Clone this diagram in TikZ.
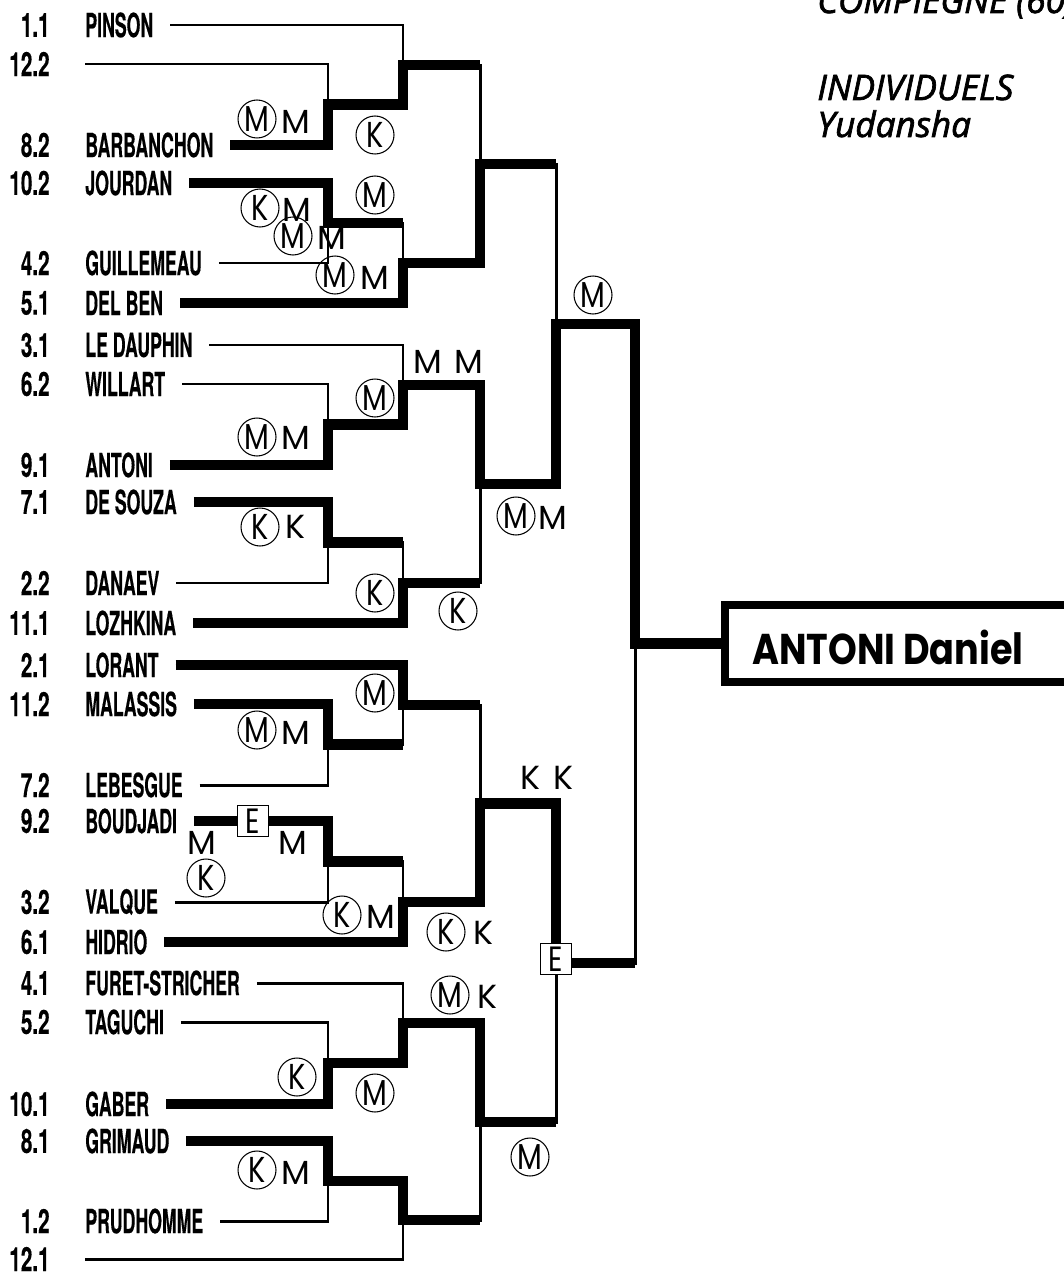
\documentclass[tikz,border=0pt]{standalone}
\usepackage{fontspec}
\newfontfamily\namefont{TeX Gyre Heros}[FakeStretch=0.53,FakeBold=0.3]
\newfontfamily\seedfont{TeX Gyre Heros}[FakeStretch=0.62,FakeBold=0.3]
\newfontfamily\markfont{Poppins}
\newfontfamily\ringfont{Poppins}[FakeStretch=0.8]
\newfontfamily\winfont{Poppins}[FakeStretch=0.85]
\newfontfamily\titlefont{Open Sans}[FakeBold=2]

\tikzset{
  lose/.style={line width=1.7pt},
  win/.style={line width=6.2pt},
  seed/.style={anchor=east, inner sep=0pt, font=\seedfont\bfseries\fontsize{19}{21}\selectfont},
  judoka/.style={anchor=west, inner sep=0pt, font=\namefont\bfseries\fontsize{19}{21}\selectfont},
  ring/.style={circle, draw, line width=0.6pt, minimum size=0.76cm, inner sep=0pt, font=\ringfont\fontsize{20.5}{22}\selectfont},
  score/.style={inner sep=0pt, font=\markfont\fontsize{19}{21}\selectfont},
  ebox/.style={draw, fill=white, line width=0.7pt, minimum size=0.63cm, inner sep=0pt, font=\ringfont\fontsize{20}{22}\selectfont},
  heading/.style={anchor=base west, inner sep=0pt, font=\titlefont\itshape\fontsize{20}{24}\selectfont}
}

\begin{document}
\begin{tikzpicture}[x=0.02cm,y=-0.02cm]
    \useasboundingbox (0,0) rectangle (1064,1277);
    % title
    \node[heading] (venue) at (817,13) {COMPIEGNE (60)};
    \node[heading] (event) at (817,100) {INDIVIDUELS};
    \node[heading] (grade) at (817,137) {Yudansha};
    % competitors
    \node[seed] (s1) at (50,25) {1.1};     \node[judoka] (pinson) at (85,25) {PINSON};
    \node[seed] (s2) at (50,64) {12.2};    \coordinate (bye1) at (85,64);
    \node[seed] (s3) at (50,145) {8.2};    \node[judoka] (barbanchon) at (85,145) {BARBANCHON};
    \node[seed] (s4) at (50,183) {10.2};   \node[judoka] (jourdan) at (85,183) {JOURDAN};
    \node[seed] (s5) at (50,263) {4.2};    \node[judoka] (guillemeau) at (85,263) {GUILLEMEAU};
    \node[seed] (s6) at (50,303) {5.1};    \node[judoka] (delben) at (85,303) {DEL BEN};
    \node[seed] (s7) at (50,345) {3.1};    \node[judoka] (ledauphin) at (85,345) {LE DAUPHIN};
    \node[seed] (s8) at (50,384) {6.2};    \node[judoka] (willart) at (85,384) {WILLART};
    \node[seed] (s9) at (50,465) {9.1};    \node[judoka] (antoni) at (85,465) {ANTONI};
    \node[seed] (s10) at (50,502) {7.1};   \node[judoka] (desouza) at (85,502) {DE SOUZA};
    \node[seed] (s11) at (50,583) {2.2};   \node[judoka] (danaev) at (85,583) {DANAEV};
    \node[seed] (s12) at (50,623) {11.1};  \node[judoka] (lozhkina) at (85,623) {LOZHKINA};
    \node[seed] (s13) at (50,665) {2.1};   \node[judoka] (lorant) at (85,665) {LORANT};
    \node[seed] (s14) at (50,704) {11.2};  \node[judoka] (malassis) at (85,704) {MALASSIS};
    \node[seed] (s15) at (50,785) {7.2};   \node[judoka] (lebesgue) at (85,785) {LEBESGUE};
    \node[seed] (s16) at (50,821) {9.2};   \node[judoka] (boudjadi) at (85,821) {BOUDJADI};
    \node[seed] (s17) at (50,902) {3.2};   \node[judoka] (valque) at (85,902) {VALQUE};
    \node[seed] (s18) at (50,942) {6.1};   \node[judoka] (hidrio) at (85,942) {HIDRIO};
    \node[seed] (s19) at (50,983) {4.1};   \node[judoka] (furet) at (85,983) {FURET-STRICHER};
    \node[seed] (s20) at (50,1022) {5.2};  \node[judoka] (taguchi) at (85,1022) {TAGUCHI};
    \node[seed] (s21) at (50,1104) {10.1}; \node[judoka] (gaber) at (85,1104) {GABER};
    \node[seed] (s22) at (50,1141) {8.1};  \node[judoka] (grimaud) at (85,1141) {GRIMAUD};
    \node[seed] (s23) at (50,1221) {1.2};  \node[judoka] (prudhomme) at (85,1221) {PRUDHOMME};
    \node[seed] (s24) at (50,1259) {12.1}; \coordinate (bye2) at (85,1259);
    % bracket junctions
    \coordinate (j11) at (328,104.5);  \coordinate (j12) at (328,223);
    \coordinate (j13) at (328,424.5);  \coordinate (j14) at (328,542.5);
    \coordinate (j15) at (328,744.5);  \coordinate (j16) at (328,861.5);
    \coordinate (j17) at (328,1063);   \coordinate (j18) at (328,1181);
    \coordinate (j21) at (403,65);     \coordinate (j22) at (403,263);
    \coordinate (j23) at (403,385);    \coordinate (j24) at (403,583);
    \coordinate (j25) at (403,705);    \coordinate (j26) at (403,902);
    \coordinate (j27) at (403,1023);   \coordinate (j28) at (403,1220);
    \coordinate (j31) at (480,164);    \coordinate (j32) at (480,484);
    \coordinate (j33) at (480,803.5);  \coordinate (j34) at (480,1122);
    \coordinate (j41) at (556,324);    \coordinate (j42) at (556,963);
    \coordinate (j5) at (635,643.5);
    % winner
    \node[draw, line width=4.6pt, anchor=west, minimum width=8cm, minimum height=1.54cm] (winbox) at (721,643.5) {};
    \node[anchor=west, inner sep=0pt, font=\winfont\bfseries\fontsize{24.5}{27}\selectfont] (champion) at (752,647) {ANTONI Daniel};
    % thin lines
    \draw[lose] ([xshift=9.5pt]pinson.east) -| (j21);
    \draw[lose] (bye1) -| (j11);
    \draw[lose] ([xshift=9.5pt]barbanchon.east) -| (j11);
    \draw[lose] ([xshift=9.5pt]jourdan.east) -| (j12);
    \draw[lose] ([xshift=9.5pt]guillemeau.east) -| (j12);
    \draw[lose] ([xshift=9.5pt]delben.east) -| (j22);
    \draw[lose] ([xshift=9.5pt]ledauphin.east) -| (j23);
    \draw[lose] ([xshift=9.5pt]willart.east) -| (j13);
    \draw[lose] ([xshift=9.5pt]antoni.east) -| (j13);
    \draw[lose] ([xshift=9.5pt]desouza.east) -| (j14);
    \draw[lose] ([xshift=9.5pt]danaev.east) -| (j14);
    \draw[lose] ([xshift=9.5pt]lozhkina.east) -| (j24);
    \draw[lose] ([xshift=9.5pt]lorant.east) -| (j25);
    \draw[lose] ([xshift=9.5pt]malassis.east) -| (j15);
    \draw[lose] ([xshift=9.5pt]lebesgue.east) -| (j15);
    \draw[lose] ([xshift=9.5pt]boudjadi.east) -| (j16);
    \draw[lose] ([xshift=9.5pt]valque.east) -| (j16);
    \draw[lose] ([xshift=9.5pt]hidrio.east) -| (j26);
    \draw[lose] ([xshift=9.5pt]furet.east) -| (j27);
    \draw[lose] ([xshift=9.5pt]taguchi.east) -| (j17);
    \draw[lose] ([xshift=9.5pt]gaber.east) -| (j17);
    \draw[lose] ([xshift=9.5pt]grimaud.east) -| (j18);
    \draw[lose] ([xshift=9.5pt]prudhomme.east) -| (j18);
    \draw[lose] (bye2) -| (j28);
    \draw[lose] (j11) -| (j21) -| (j31) -| (j41) -| (j5);
    \draw[lose] (j12) -| (j22) -| (j31);
    \draw[lose] (j13) -| (j23) -| (j32) -| (j41);
    \draw[lose] (j14) -| (j24) -| (j32);
    \draw[lose] (j15) -| (j25) -| (j33) -| (j42) -| (j5);
    \draw[lose] (j16) -| (j26) -| (j33);
    \draw[lose] (j17) -| (j27) -| (j34) -| (j42);
    \draw[lose] (j18) -| (j28) -| (j34);
    % winners
    \draw[win] ([xshift=9.5pt]barbanchon.east) -| (j11) -| (j21) -- (j21 -| j31);
    \draw[win] ([xshift=9.5pt]jourdan.east) -| (j12) -- (j12 -| j22);
    \draw[win] ([xshift=9.5pt]delben.east) -| (j22) -| (j31) -- (j31 -| j41);
    \draw[win] ([xshift=9.5pt]antoni.east) -| (j13) -| (j23) -| (j32) -| (j41) -| (j5) -- (winbox.west);
    \draw[win] ([xshift=9.5pt]desouza.east) -| (j14) -- (j14 -| j24);
    \draw[win] ([xshift=9.5pt]lozhkina.east) -| (j24) -- (j24 -| j32);
    \draw[win] ([xshift=9.5pt]lorant.east) -| (j25) -- (j25 -| j33);
    \draw[win] ([xshift=9.5pt]malassis.east) -| (j15) -- (j15 -| j25);
    \draw[win] ([xshift=9.5pt]boudjadi.east) -| (j16) -- (j16 -| j26);
    \draw[win] ([xshift=9.5pt]hidrio.east) -| (j26) -| (j33) -| (j42) -- (j42 -| j5);
    \draw[win] ([xshift=9.5pt]gaber.east) -| (j17) -| (j27) -| (j34) -- (j34 -| j42);
    \draw[win] ([xshift=9.5pt]grimaud.east) -| (j18) -| (j28) -- (j28 -| j34);
    % E marks
    \node[ebox] (e1) at (253,821) {E};
    \node[ebox] (e2) at (556,959) {E};
    % scores
    \node[ring] (c1) at (257,119) {M};   \node[score] (l1) at (296,122) {M};
    \node[ring] (c2) at (375,135) {K};
    \node[ring] (c3) at (375,195) {M};
    \node[ring] (c4) at (260,208) {K};   \node[score] (l2) at (297,210) {M};
    \node[ring] (c5) at (293,236) {M};   \node[score] (l3) at (332,238) {M};
    \node[ring] (c6) at (335,275) {M};   \node[score] (l4) at (375,278) {M};
    \node[ring] (c7) at (593,295) {M};
    \node[score] (l5) at (428,362) {M};  \node[score] (l6) at (469,362) {M};
    \node[ring] (c8) at (375,398) {M};
    \node[ring] (c9) at (257,437) {M};   \node[score] (l7) at (296,438) {M};
    \node[ring] (c10) at (260,527) {K};  \node[score] (l8) at (295,527) {K};
    \node[ring] (c11) at (516,516) {M};  \node[score] (l9) at (553,518) {M};
    \node[ring] (c12) at (375,593) {K};
    \node[ring] (c13) at (458,611) {K};
    \node[ring] (c14) at (375,693) {M};
    \node[ring] (c15) at (257,730) {M};  \node[score] (l10) at (296,733) {M};
    \node[score] (l11) at (530,778) {K}; \node[score] (l12) at (563,778) {K};
    \node[score] (l13) at (202,843) {M}; \node[score] (l14) at (293,843) {M};
    \node[ring] (c16) at (206,878) {K};
    \node[ring] (c17) at (342,915) {K};  \node[score] (l15) at (381,917) {M};
    \node[ring] (c18) at (446,932) {K};  \node[score] (l16) at (483,933) {K};
    \node[ring] (c19) at (450,995) {M};  \node[score] (l17) at (487,997) {K};
    \node[ring] (c20) at (297,1077) {K};
    \node[ring] (c21) at (375,1093) {M};
    \node[ring] (c22) at (530,1157) {M};
    \node[ring] (c23) at (257,1170) {K}; \node[score] (l18) at (296,1173) {M};
\end{tikzpicture}
\end{document}
